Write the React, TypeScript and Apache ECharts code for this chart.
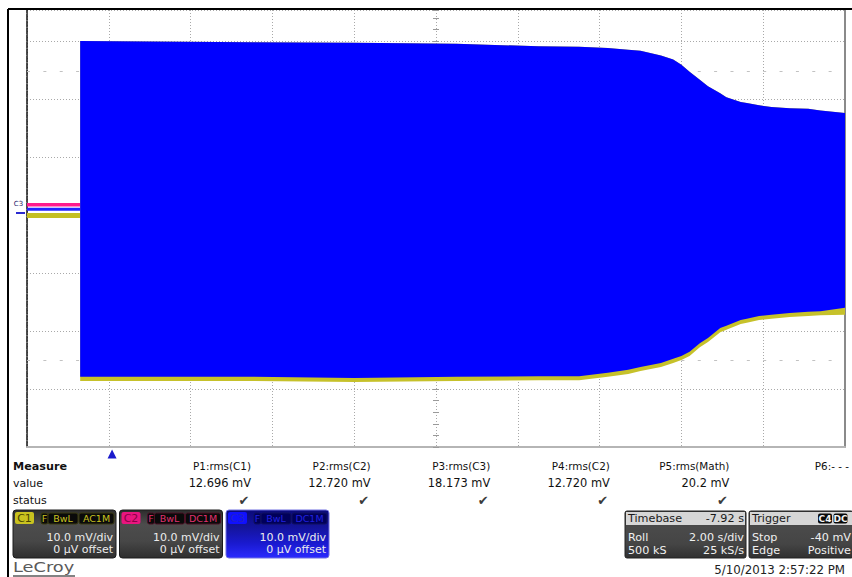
import React, { useEffect, useRef } from "react";
import * as echarts from "echarts";

// ---- data (time in s, 2 s/div; voltage in mV, 10 mV/div) ----
const times = [1.3, 3, 5.5, 8, 10.5, 12.5, 13.5, 14.2, 14.7, 15.0, 15.5, 15.8, 16.0, 16.2, 16.45, 16.65, 16.95, 17.1, 17.45, 17.6, 17.9, 18.2, 18.65, 19.1, 19.4, 20];
const c3Upper = [30.0, 29.9, 29.8, 29.7, 29.5, 29.1, 29.0, 28.8, 28.5, 28.3, 27.5, 26.8, 25.9, 24.7, 23.3, 22.2, 21.0, 20.3, 19.5, 19.3, 18.9, 18.6, 18.4, 18.3, 18.0, 17.6];
const c3Lower = [-27.9, -27.9, -27.9, -28.1, -27.9, -27.8, -27.8, -27.2, -26.7, -26.2, -25.5, -24.8, -24.3, -23.6, -22.1, -21.2, -19.5, -19.1, -18.1, -17.9, -17.4, -17.2, -16.9, -16.7, -16.6, -16.0];
const c1Lower = [-28.6, -28.6, -28.6, -28.8, -28.6, -28.5, -28.5, -27.9, -27.4, -26.9, -26.2, -25.5, -25.0, -24.3, -22.8, -21.9, -20.2, -19.8, -18.8, -18.6, -18.1, -17.9, -17.6, -17.4, -17.3, -17.2];
const preTimes = [0, 1.3];
const c1Pre = [-0.1, -0.1];
const c2Pre = [1.75, 1.75];
const c3Pre = [1.0, 1.0];
const triggerTime = 2.08;
const gridMarks = [24.7, -25];

const measureNames = ["P1:rms(C1)", "P2:rms(C2)", "P3:rms(C3)", "P4:rms(C2)", "P5:rms(Math)", "P6:- - -"];
const measureValues = ["12.696 mV", "12.720 mV", "18.173 mV", "12.720 mV", "20.2 mV", ""];
const measureOk = [true, true, true, true, true, false];

const channels = [
  { name: "C1", coupling: "AC1M", scale: "10.0 mV/div", offset: "0 µV offset" },
  { name: "C2", coupling: "DC1M", scale: "10.0 mV/div", offset: "0 µV offset" },
  { name: "C3", coupling: "DC1M", scale: "10.0 mV/div", offset: "0 µV offset" },
];
const timebaseRows = [["Timebase", "-7.92 s"], ["Roll", "2.00 s/div"], ["500 kS", "25 kS/s"]];
const triggerRows = [["Trigger", ""], ["Stop", "-40 mV"], ["Edge", "Positive"]];
const triggerTags = ["C4", "DC"];
const dateText = "5/10/2013 2:57:22 PM";

const FONT = "'DejaVu Sans', Arial, sans-serif";

function txt(x: number, y: number, text: string, o: any = {}) {
  return {
    type: "text",
    x,
    y,
    silent: true,
    z: 10,
    scaleX: o.scaleX ?? 1,
    style: {
      text,
      fill: o.fill ?? "#1a1a1a",
      fontSize: o.size ?? 11,
      fontFamily: o.family ?? FONT,
      fontWeight: o.weight ?? "normal",
      align: o.align ?? "left",
      verticalAlign: "middle",
    },
  };
}

function rect(x: number, y: number, w: number, h: number, fill: any, o: any = {}) {
  return {
    type: "rect",
    silent: true,
    z: 9,
    shape: { x, y, width: w, height: h, r: o.r ?? 0 },
    style: { fill, stroke: o.stroke ?? null, lineWidth: o.lw ?? 1 },
  };
}

const grad = (stops: [number, string][]) => ({
  type: "linear",
  x: 0,
  y: 0,
  x2: 0,
  y2: 1,
  colorStops: stops.map(([offset, color]) => ({ offset, color })),
});

const chanStyle = [
  { tag: "#c9c21f", tagText: "#4a4600", txt: "#c9c21f", tagBg: "#0a0a0a", bg: grad([[0, "#2c2c2c"], [0.3, "#4c4c4c"], [0.65, "#474747"], [1, "#2e2e2e"]]), stroke: "#1c1c1c" },
  { tag: "#e8157f", tagText: "#8a0045", txt: "#e0306f", tagBg: "#0a0a0a", bg: grad([[0, "#2c2c2c"], [0.3, "#4c4c4c"], [0.65, "#474747"], [1, "#2e2e2e"]]), stroke: "#1c1c1c" },
  { tag: "#1010ff", tagText: "#2020c8", txt: "#2020e0", tagBg: "#00005a", bg: grad([[0, "#0a0a7a"], [0.35, "#14149a"], [0.7, "#1a1ad0"], [1, "#2a2aff"]]), stroke: "#7070e0" },
];

function buildGraphics() {
  const els: any[] = [];
  // outer frame
  els.push({ type: "line", silent: true, z: 10, shape: { x1: 8, y1: 9, x2: 852, y2: 9 }, style: { stroke: "#000", lineWidth: 2 } });
  els.push({ type: "line", silent: true, z: 10, shape: { x1: 8, y1: 9, x2: 8, y2: 577 }, style: { stroke: "#000", lineWidth: 2 } });
  // C3 level marker
  els.push(txt(18.5, 204, "C3", { size: 7, fill: "#22226a", align: "center" }));
  els.push({ type: "line", silent: true, z: 10, shape: { x1: 16, y1: 213, x2: 25, y2: 213 }, style: { stroke: "#2a2ad0", lineWidth: 2 } });

  // measure table
  els.push(txt(13, 466, "Measure", { weight: "bold", size: 11.2, fill: "#111" }));
  els.push(txt(13, 483, "value", { size: 11, fill: "#111" }));
  els.push(txt(13, 500, "status", { size: 11, fill: "#111" }));
  measureNames.forEach((n, i) => {
    const xr = 251 + i * 119.6;
    els.push(txt(xr, 466, n, { align: "right", size: 10.4, fill: "#111" }));
    if (measureValues[i]) els.push(txt(xr, 483, measureValues[i], { align: "right", size: 11.4, fill: "#111" }));
    if (measureOk[i]) els.push(txt(xr - 7, 500, "✔", { align: "center", size: 13, fill: "#3c3c3c" }));
  });

  // channel boxes
  channels.forEach((c, i) => {
    const x0 = 13 + i * 106.5;
    const s = chanStyle[i];
    els.push(rect(x0, 510, 103, 48, s.bg, { r: 3, stroke: s.stroke }));
    els.push(rect(x0 + 2, 512, 19, 12, s.tag, { r: 2 }));
    els.push(txt(x0 + 11.5, 518.5, c.name, { align: "center", size: 11, fill: s.tagText }));
    const tags = [["F", 28, 7], ["BwL", 35, 30], [c.coupling, 66, 35]] as [string, number, number][];
    tags.forEach(([t, dx, w]) => {
      els.push(rect(x0 + dx, 513, w, 11, s.tagBg, { r: 2, stroke: i === 0 ? "#3a3a10" : i === 1 ? "#4a1025" : "#101060" }));
      els.push(txt(x0 + dx + w / 2, 518.5, t, { align: "center", size: 9.5, fill: s.txt }));
    });
    els.push(txt(x0 + 100, 537, c.scale, { align: "right", size: 11, fill: "#ececec" }));
    els.push(txt(x0 + 100, 549.5, c.offset, { align: "right", size: 11, fill: "#ececec" }));
  });

  // timebase & trigger boxes
  const boxes: [number, number, string[][]][] = [[625, 121, timebaseRows], [749, 104, triggerRows]];
  boxes.forEach(([x0, w, rows]) => {
    els.push(rect(x0, 511, w, 47, grad([[0, "#3a3a3a"], [0.35, "#4a4a4a"], [0.7, "#454545"], [1, "#303030"]]), { r: 2, stroke: "#222" }));
    els.push(rect(x0 + 1, 512, w - 2, 13, "#d6d6d6"));
    rows.forEach((r, k) => {
      const y = [518.5, 537, 550][k];
      const col = k === 0 ? "#1a1a1a" : "#f0f0f0";
      els.push(txt(x0 + 3, y, r[0], { size: 11.2, fill: col }));
      if (r[1]) els.push(txt(x0 + w - 2, y, r[1], { size: 11.2, fill: col, align: "right" }));
    });
  });
  triggerTags.forEach((t, k) => {
    const x = 818 + k * 15.5;
    els.push(rect(x, 513.5, 14, 10, "#0a0a0a", { r: 2 }));
    els.push(txt(x + 7, 518.5, t, { align: "center", size: 9, weight: "bold", fill: "#f4f4f4" }));
  });

  // footer
  els.push(txt(845, 570, dateText, { align: "right", size: 11.8, fill: "#222" }));
  els.push(txt(13, 567, "LeCroy", { size: 14, fill: "#5a5a5a", scaleX: 1.27 }));
  els.push({ type: "line", silent: true, z: 10, shape: { x1: 13, y1: 576, x2: 75, y2: 576 }, style: { stroke: "#5a5a5a", lineWidth: 1.5 } });
  return els;
}

// filled envelope drawn through the cartesian scales
function envelope(up: number[], lo: number[], color: string, z: number) {
  return {
    type: "custom",
    coordinateSystem: "cartesian2d",
    silent: true,
    z,
    data: [[times[0], up[0]]],
    encode: { x: 0, y: 1 },
    renderItem: (_params: any, api: any) => {
      const top = times.map((t, i) => api.coord([t, up[i]]));
      const bottom = times.map((t, i) => api.coord([t, lo[i]])).reverse();
      return {
        type: "polygon",
        shape: { points: top.concat(bottom) },
        style: { fill: color, stroke: null },
      };
    },
  };
}

function buildOption(): any {
  const hidden = { axisLabel: { show: false }, axisTick: { show: false } };
  const dotted = { show: true, lineStyle: { color: "#a9a9a9", type: [1, 2], width: 1 } };
  const yBase = { type: "value", min: -40, max: 35.34, interval: 10 };
  const pair = (xs: number[], ys: number[]) => xs.map((t, i) => [t, ys[i]]);
  const plain = { symbol: "none", silent: true, showSymbol: false };

  return {
    animation: false,
    backgroundColor: "#ffffff",
    grid: { left: 27, right: 7, top: 10, bottom: 130 },
    xAxis: [
      {
        type: "value", min: 0, max: 20, interval: 2, ...hidden,
        axisLine: { show: true, onZero: false, lineStyle: { color: "#b5b5b5", width: 2 } },
        splitLine: dotted,
      },
    ],
    yAxis: [
      {
        ...yBase, position: "left", ...hidden,
        axisLine: { show: true, onZero: false, lineStyle: { color: "#111", width: 1.5, type: [6, 1] } },
        splitLine: dotted,
      },
      {
        ...yBase, position: "right", ...hidden,
        axisLine: { show: true, onZero: false, lineStyle: { color: "#8a8a8a", width: 2 } },
        splitLine: { show: false },
      },
      {
        ...yBase, position: "left", offset: -409, axisLabel: { show: false },
        axisLine: { show: false, onZero: false },
        axisTick: { show: true, inside: false, length: 3, lineStyle: { color: "#9a9a9a" } },
        minorTick: { show: true, splitNumber: 5, length: 3, lineStyle: { color: "#9a9a9a" } },
        splitLine: { show: false },
      },
      {
        ...yBase, position: "left", offset: -409, axisLabel: { show: false },
        axisLine: { show: false, onZero: false },
        axisTick: { show: true, inside: true, length: 3, lineStyle: { color: "#9a9a9a" } },
        minorTick: { show: true, splitNumber: 5, length: 3, lineStyle: { color: "#9a9a9a" } },
        splitLine: { show: false },
      },
    ],
    graphic: { elements: buildGraphics() },
    series: [
      {
        type: "line", ...plain, data: pair(preTimes, c1Pre),
        lineStyle: { color: "#c4bf22", width: 5 },
        markLine: {
          silent: true, z: 1, symbol: "none", label: { show: false },
          lineStyle: { color: "#c2c2c2", type: [3, 13.36], width: 1 },
          data: gridMarks.map((v) => ({ yAxis: v })),
        },
      },
      { type: "line", ...plain, data: pair(preTimes, c3Pre), lineStyle: { color: "#2222ff", width: 3 },
        markPoint: {
          silent: true, symbol: "triangle", symbolSize: [9, 9], symbolOffset: [0, 7],
          itemStyle: { color: "#1a1acc" }, label: { show: false },
          data: [{ coord: [triggerTime, -40] }],
        },
      },
      { type: "line", ...plain, data: pair(preTimes, c2Pre), lineStyle: { color: "#ff1a8c", width: 3.5 } },
      envelope(c3Upper, c1Lower, "#c6c12a", 3),
      envelope(c3Upper, c3Lower, "#0000ff", 4),
    ],
  };
}

export default function App() {
  const ref = useRef<HTMLDivElement>(null);
  useEffect(() => {
    if (!ref.current) return;
    const chart = echarts.init(ref.current, undefined, { renderer: "svg" });
    chart.setOption(buildOption());
    return () => chart.dispose();
  }, []);
  return <div ref={ref} style={{ position: "absolute", left: 0, top: 0, width: 852, height: 577 }} />;
}
